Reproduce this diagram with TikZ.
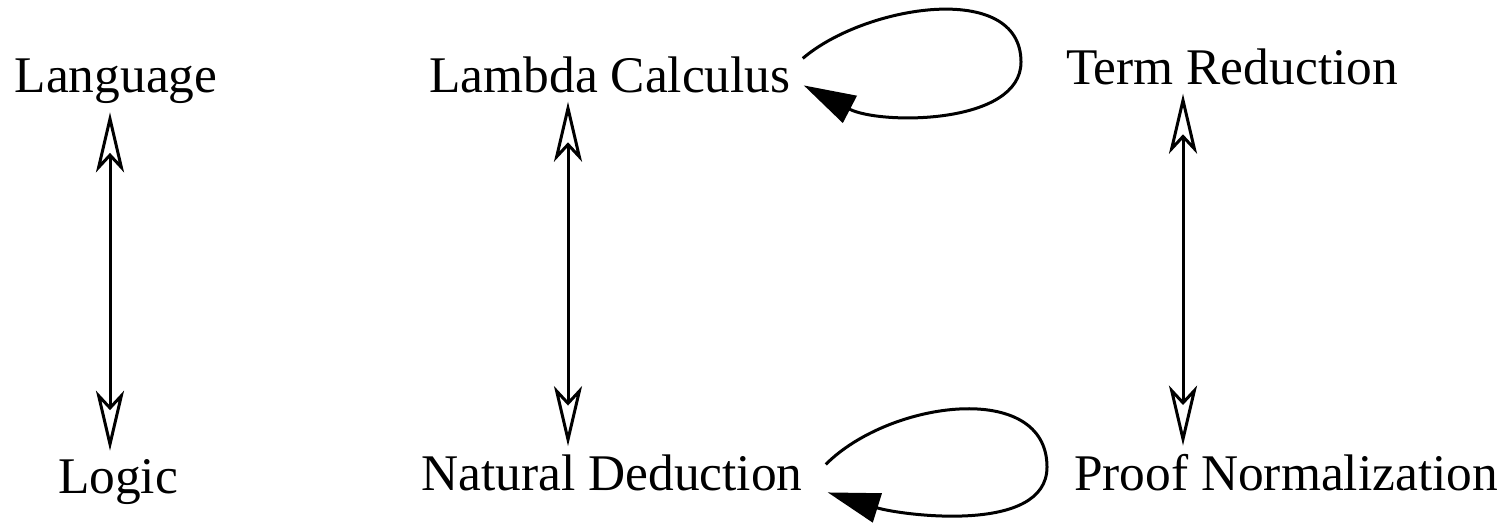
\documentclass[tikz,border=0pt]{standalone}
\usepackage{fontspec}
\setmainfont{Liberation Serif}
\usetikzlibrary{arrows.meta,calc}

\begin{document}
\begin{tikzpicture}[x=1pt,y=-1pt,
    lbl/.style={font=\fontsize{51.4}{60}\selectfont,anchor=base,inner sep=8pt},
    bothway/.style={line width=3pt,{Stealth[open,length=60pt,width=28pt,inset=15pt]}-{Stealth[open,length=60pt,width=28pt,inset=15pt]}},
    selfloop/.style={line width=3pt,-{Triangle[length=52pt,width=30pt]}}]
  \useasboundingbox (0,0) rectangle (1511,524);

  % Top row
  \node[lbl] (lang) at (116,93) {Language};
  \node[lbl] (lambda) at (610,93) {Lambda Calculus};
  \node[lbl] (term) at (1232,85) {Term Reduction};

  % Bottom row
  \node[lbl] (logic) at (118,493) {Logic};
  \node[lbl] (natded) at (612,490) {Natural Deduction};
  \node[lbl] (normal) at (1286,490) {Proof Normalization};

  % Correspondences
  \draw[bothway] ([xshift=-6pt]lang.south) -- ([xshift=-6pt]lang.south |- logic.north);
  \draw[bothway] ([xshift=-42pt]lambda.south) -- ([xshift=-42pt]lambda.south |- natded.north);
  \draw[bothway] ([xshift=-49pt]term.south) -- ([xshift=-49pt]term.south |- normal.north);

  % Reduction loops
  \draw[selfloop] ([xshift=4pt,yshift=17pt]lambda.east) .. controls (865,5) and (1021,-20) .. (1021,62)
    .. controls (1021,125) and (880,125) .. ([xshift=5pt,yshift=-10pt]lambda.east);
  \draw[selfloop] ([xshift=15pt,yshift=8pt]natded.east) .. controls (890,400) and (1047,380) .. (1047,467)
    .. controls (1047,535) and (900,515) .. ([xshift=17pt,yshift=-20pt]natded.east);
\end{tikzpicture}
\end{document}
